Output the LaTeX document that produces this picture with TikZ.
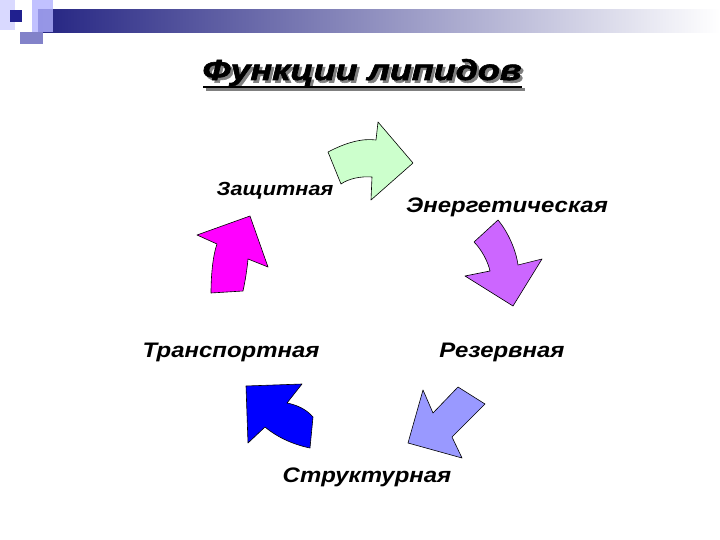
\documentclass[tikz,border=0pt]{standalone}
\usepackage{fontspec}
\usepackage{graphicx}
\newfontfamily\labelfont[FakeStretch=1.14]{Liberation Sans}
\newfontfamily\titlefont[FakeBold=2]{Liberation Sans Bold Italic}
\definecolor{bannerblue}{RGB}{36,36,130}
\definecolor{lightgreen}{RGB}{204,255,204}
\definecolor{lilac}{RGB}{204,102,255}
\definecolor{periwinkle}{RGB}{153,153,255}
\definecolor{pink}{RGB}{255,0,255}
\newcommand{\titleword}{\resizebox{319pt}{21pt}{\titlefont Функции липидов}}
\newcommand{\titletext}{\rlap{\hspace{2.5pt}\raisebox{-2.5pt}{\color{gray}\titleword}}\titleword}

\begin{document}
\begin{tikzpicture}[x=1pt,y=-1pt,
  arrowshape/.style={draw=black, line width=0.6pt, line join=round},
  lbl/.style={font=\labelfont\bfseries\itshape\fontsize{21}{25}\selectfont, anchor=base, inner sep=0pt}]
  \useasboundingbox (0,0) rectangle (720,540);
  \fill[white] (0,0) rectangle (720,540);

  % header decoration
  \fill[blue!15!white] (0,0) rectangle (15,30);
  \shade[left color=bannerblue, right color=white] (38,10) rectangle (720,33);
  \fill[blue!30!white, opacity=0.8] (32,0) rectangle (53,32);
  \fill[blue!40!gray!70!white] (20,32) rectangle (43,44);
  \fill[bannerblue!90!blue] (10,10) rectangle (22,22);

  % title with shadow and underline
  \node[anchor=base, inner sep=0pt] (title) at (362,80) {\titletext};
  \draw[gray, line width=2.5pt] (205.5,89.5) -- (524.5,89.5);
  \draw[black, line width=2.5pt] (203,87) -- (522,87);

  % arrows
  \coordinate (g1) at (328,152);
  \coordinate (g2) at (376,140);
  \coordinate (g3) at (378,122);
  \coordinate (g4) at (413,163);
  \coordinate (g5) at (371,200);
  \coordinate (g6) at (372,177);
  \coordinate (g7) at (341,184);
  \draw[arrowshape, fill=lightgreen] (g1) .. controls (345,143) and (362,138) .. (g2) -- (g3) -- (g4) -- (g5) -- (g6)
    .. controls (360,176) and (348,179) .. (g7) -- cycle;

  \coordinate (p1) at (474,242);
  \coordinate (p2) at (498,220);
  \coordinate (p3) at (518,265);
  \coordinate (p4) at (542,259);
  \coordinate (p5) at (513,306);
  \coordinate (p6) at (465,276);
  \coordinate (p7) at (490,271);
  \draw[arrowshape, fill=lilac] (p1) -- (p2) .. controls (508,232) and (516,250) .. (p3) -- (p4) -- (p5) -- (p6) -- (p7)
    .. controls (488,262) and (482,250) .. (p1) -- cycle;

  \coordinate (r1) at (423,390);
  \coordinate (r2) at (433,413);
  \coordinate (r3) at (458,387);
  \coordinate (r4) at (485,404);
  \coordinate (r5) at (452,437);
  \coordinate (r6) at (462,458);
  \coordinate (r7) at (408,443);
  \draw[arrowshape, fill=periwinkle] (r1) -- (r2) -- (r3) -- (r4) -- (r5) -- (r6) -- (r7) -- cycle;

  \coordinate (b1) at (246,386);
  \coordinate (b2) at (302,384);
  \coordinate (b3) at (287,403);
  \coordinate (b4) at (313,417);
  \coordinate (b5) at (310,448);
  \coordinate (b6) at (265,427);
  \coordinate (b7) at (248,443);
  \draw[arrowshape, fill=blue] (b1) -- (b2) -- (b3) .. controls (297,405) and (306,409) .. (b4) -- (b5)
    .. controls (295,445) and (278,438) .. (b6) -- (b7) -- cycle;

  \coordinate (m1) at (197,235);
  \coordinate (m2) at (250,216);
  \coordinate (m3) at (268,267);
  \coordinate (m4) at (248,259);
  \coordinate (m5) at (243,291);
  \coordinate (m6) at (211,293);
  \coordinate (m7) at (217,244);
  \draw[arrowshape, fill=pink] (m1) -- (m2) -- (m3) -- (m4) .. controls (247,270) and (245,282) .. (m5) -- (m6)
    .. controls (211,275) and (213,255) .. (m7) -- cycle;

  % labels
  \node[lbl, font=\labelfont\bfseries\itshape\fontsize{19}{23}\selectfont] (protect) at (275,196) {Защитная};
  \node[lbl] (energy) at (507,213) {Энергетическая};
  \node[lbl] (transport) at (231,357) {Транспортная};
  \node[lbl] (reserve) at (502,357) {Резервная};
  \node[lbl] (struct) at (367,482) {Структурная};
\end{tikzpicture}
\end{document}
